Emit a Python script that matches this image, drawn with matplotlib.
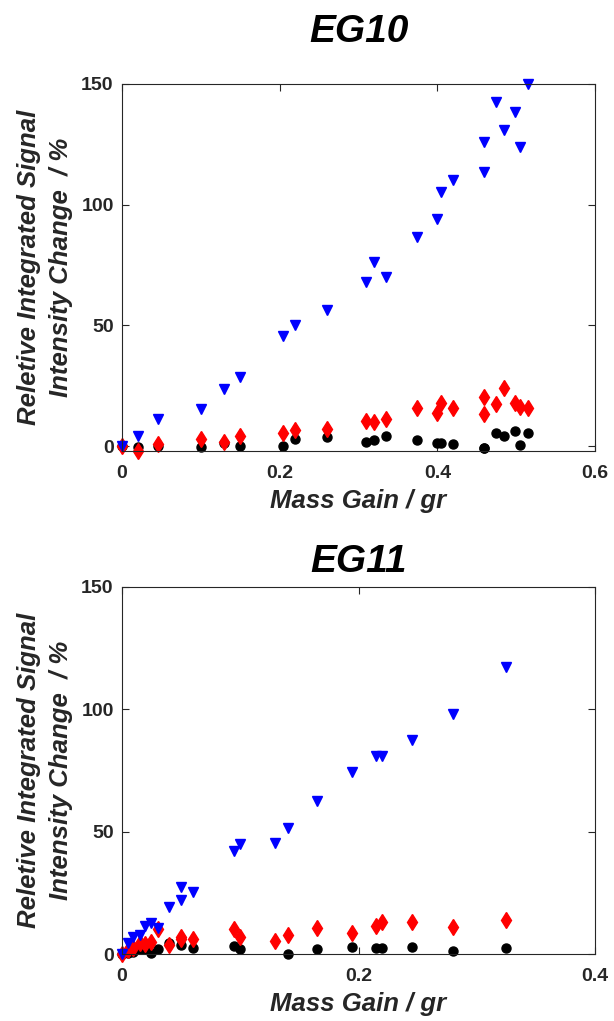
import numpy as np
import matplotlib.pyplot as plt

plt.rcParams['font.family'] = ['Liberation Sans', 'DejaVu Sans']

# EG10 data
eg10_x = [0, 0.0203, 0.0457, 0.0998, 0.130, 0.150, 0.2047, 0.220, 0.2596, 0.3095,
          0.3197, 0.3345, 0.3746, 0.400, 0.4042, 0.4194, 0.4596, 0.4596, 0.474,
          0.4846, 0.4989, 0.5044, 0.5146]
eg10_blue = [0, 4.1, 11.1, 15.5, 23.8, 28.5, 45.6, 50.0, 56.3, 68.0,
             76.3, 70.0, 86.7, 94.2, 105.2, 110.2, 113.6, 125.8, 142.4,
             130.9, 138.5, 123.9, 150.0]
eg10_red = [0, -2.2, 1.0, 2.8, 1.7, 4.4, 5.3, 6.6, 7.3, 10.4,
            9.8, 11.1, 16.0, 13.8, 18.0, 15.6, 13.5, 20.3, 17.3,
            24.2, 18.0, 16.3, 15.9]
eg10_black = [0, -0.3, 0, -0.3, 1.4, -0.1, 0.1, 2.8, 3.6, 1.9,
              2.4, 4.3, 2.6, 1.4, 1.4, 1.0, -0.6, -0.6, 5.5,
              4.4, 6.2, 0.4, 5.5]

# EG11 data
eg11_x = [0, 0.0051, 0.0093, 0.015, 0.0197, 0.0248, 0.0305, 0.0398, 0.0496, 0.0496,
          0.060, 0.0948, 0.0999, 0.1298, 0.140, 0.1647, 0.1949, 0.2147, 0.2198,
          0.2449, 0.2798, 0.3247]
eg11_blue = [0, 4.6, 7.1, 7.8, 11.5, 12.8, 10.5, 19.1, 22.1, 27.3,
             25.5, 42.2, 45.0, 45.3, 51.7, 62.6, 74.5, 81.0, 81.0,
             87.4, 98.2, 117.5]
eg11_red = [0, 1.6, 2.3, 4.4, 4.1, 5.0, 10.1, 3.7, 6.1, 7.0,
            6.1, 10.2, 7.1, 5.5, 7.8, 10.5, 8.7, 11.6, 13.0,
            13.2, 10.9, 13.8]
eg11_bx = [0, 0.0051, 0.0093, 0.015, 0.0197, 0.0248, 0.0305, 0.0398, 0.0496,
           0.060, 0.0948, 0.0999, 0.140, 0.1647, 0.1949, 0.2147, 0.2198,
           0.2449, 0.2798, 0.3247]
eg11_black = [0, 0.6, 1.0, 1.9, 1.9, 0.6, 1.9, 4.6, 3.7,
              2.3, 3.3, 1.9, 0, 2.0, 3.0, 2.3, 2.6,
              2.7, 1.4, 2.3]

titles = ['EG10', 'EG11']
xlims = [(0, 0.6), (0, 0.4)]
xticks = [[0, 0.2, 0.4, 0.6], [0, 0.2, 0.4]]
ylims = [(-2, 150), (0, 150)]
title_pads = [30, 11]

fig = plt.figure(figsize=(6.14, 10.21), dpi=100)
ax1 = fig.add_axes([0.1987, 0.5583, 0.7704, 0.3595])
ax2 = fig.add_axes([0.1987, 0.0656, 0.7704, 0.3595])

series = [
    (eg10_x, eg10_black, eg10_x, eg10_red, eg10_blue),
    (eg11_bx, eg11_black, eg11_x, eg11_red, eg11_blue),
]

axc = '#262626'
for i, ax in enumerate([ax1, ax2]):
    bx, bk, x, rd, bl = series[i]
    ax.plot(bx, bk, 'o', color='black', ms=6.5, ls='none', clip_on=False)
    ax.plot(x, rd, 'd', color='red', ms=8, ls='none', clip_on=False)
    ax.plot(x, bl, 'v', color='blue', ms=7.5, ls='none', clip_on=False)
    ax.set_xlim(xlims[i])
    ax.set_ylim(ylims[i])
    ax.set_xticks(xticks[i])
    ax.set_xticklabels([('%g' % t) for t in xticks[i]])
    ax.set_yticks([0, 50, 100, 150])
    ax.tick_params(direction='in', top=True, right=True, labelsize=14,
                   colors=axc, length=5, width=0.8)
    ax.tick_params(axis='x', pad=10)
    ax.tick_params(axis='y', pad=6)
    for lab in ax.get_xticklabels() + ax.get_yticklabels():
        lab.set_fontweight('bold')
    for s in ax.spines.values():
        s.set_color(axc)
        s.set_linewidth(0.8)
    ax.set_title(titles[i], fontsize=28, fontweight='bold', style='italic',
                 pad=title_pads[i])
    ax.set_xlabel('Mass Gain / gr', fontsize=18.5, fontweight='bold', style='italic',
                  color=axc, labelpad=5)
    ax.set_ylabel('Reletive Integrated Signal\nIntensity Change  / %', fontsize=18.5,
                  fontweight='bold', style='italic', color=axc, linespacing=1.4,
                  labelpad=6)

fig.savefig('out.png', dpi=100)
